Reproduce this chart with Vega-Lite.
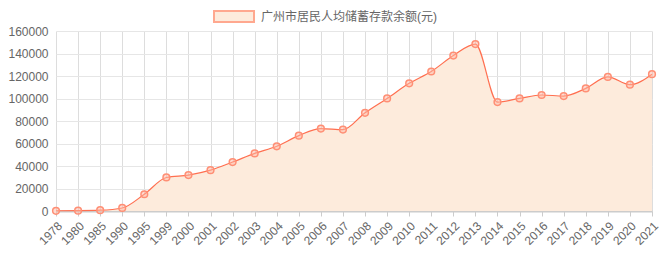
{
  "$schema": "https://vega.github.io/schema/vega-lite/v6.json",
  "width": 596,
  "height": 180,
  "autosize": {"type": "none"},
  "padding": {"left": 56, "top": 31, "right": 8, "bottom": 49},
  "background": "#ffffff",
  "config": {
    "font": "Liberation Sans, Noto Sans CJK SC, sans-serif",
    "view": {"stroke": null}
  },
  "data": {
    "values": [
      {"year": "1978", "value": 200, "series": "广州市居民人均储蓄存款余额(元)"},
      {"year": "1980", "value": 300, "series": "广州市居民人均储蓄存款余额(元)"},
      {"year": "1985", "value": 700, "series": "广州市居民人均储蓄存款余额(元)"},
      {"year": "1990", "value": 2700, "series": "广州市居民人均储蓄存款余额(元)"},
      {"year": "1995", "value": 14900, "series": "广州市居民人均储蓄存款余额(元)"},
      {"year": "1999", "value": 29800, "series": "广州市居民人均储蓄存款余额(元)"},
      {"year": "2000", "value": 31900, "series": "广州市居民人均储蓄存款余额(元)"},
      {"year": "2001", "value": 36300, "series": "广州市居民人均储蓄存款余额(元)"},
      {"year": "2002", "value": 43500, "series": "广州市居民人均储蓄存款余额(元)"},
      {"year": "2003", "value": 51200, "series": "广州市居民人均储蓄存款余额(元)"},
      {"year": "2004", "value": 57500, "series": "广州市居民人均储蓄存款余额(元)"},
      {"year": "2005", "value": 67000, "series": "广州市居民人均储蓄存款余额(元)"},
      {"year": "2006", "value": 73300, "series": "广州市居民人均储蓄存款余额(元)"},
      {"year": "2007", "value": 72400, "series": "广州市居民人均储蓄存款余额(元)"},
      {"year": "2008", "value": 87300, "series": "广州市居民人均储蓄存款余额(元)"},
      {"year": "2009", "value": 100100, "series": "广州市居民人均储蓄存款余额(元)"},
      {"year": "2010", "value": 113500, "series": "广州市居民人均储蓄存款余额(元)"},
      {"year": "2011", "value": 124000, "series": "广州市居民人均储蓄存款余额(元)"},
      {"year": "2012", "value": 138200, "series": "广州市居民人均储蓄存款余额(元)"},
      {"year": "2013", "value": 148400, "series": "广州市居民人均储蓄存款余额(元)"},
      {"year": "2014", "value": 96800, "series": "广州市居民人均储蓄存款余额(元)"},
      {"year": "2015", "value": 100100, "series": "广州市居民人均储蓄存款余额(元)"},
      {"year": "2016", "value": 103100, "series": "广州市居民人均储蓄存款余额(元)"},
      {"year": "2017", "value": 102200, "series": "广州市居民人均储蓄存款余额(元)"},
      {"year": "2018", "value": 109000, "series": "广州市居民人均储蓄存款余额(元)"},
      {"year": "2019", "value": 119200, "series": "广州市居民人均储蓄存款余额(元)"},
      {"year": "2020", "value": 112300, "series": "广州市居民人均储蓄存款余额(元)"},
      {"year": "2021", "value": 121600, "series": "广州市居民人均储蓄存款余额(元)"}
    ]
  },
  "encoding": {
    "x": {
      "field": "year",
      "type": "ordinal",
      "sort": null,
      "scale": {"type": "point", "padding": 0},
      "axis": {
        "title": null,
        "labelAngle": -45,
        "labelAlign": "right",
        "labelBaseline": "top",
        "labelColor": "#666666",
        "labelFontSize": 12,
        "labelPadding": 4,
        "ticks": true,
        "tickSize": 5,
        "tickColor": "#cccccc",
        "domainColor": "#cccccc",
        "domainWidth": 2,
        "grid": true,
        "gridColor": "#dddddd",
        "labelOverlap": false,
        "labelBound": false
      }
    },
    "y": {
      "field": "value",
      "type": "quantitative",
      "scale": {"domain": [0, 160000], "nice": false},
      "axis": {
        "title": null,
        "values": [0, 20000, 40000, 60000, 80000, 100000, 120000, 140000, 160000],
        "format": "d",
        "labelColor": "#666666",
        "labelFontSize": 12,
        "labelPadding": 8,
        "ticks": false,
        "domain": false,
        "grid": true,
        "gridColor": "#e6e6e6"
      }
    }
  },
  "layer": [
    {
      "mark": {"type": "area", "interpolate": "monotone"},
      "encoding": {
        "color": {
          "field": "series",
          "type": "nominal",
          "scale": {"range": ["#fdebdc"]},
          "legend": {
            "title": null,
            "orient": "none",
            "legendX": 157,
            "legendY": -35.5,
            "padding": 0,
            "symbolType": "M-1,-0.275L1,-0.275L1,0.275L-1,0.275Z",
            "symbolSize": 1600,
            "symbolStrokeColor": "#ffa88f",
            "symbolStrokeWidth": 2,
            "symbolFillColor": "#fdebdc",
            "symbolOpacity": 1,
            "labelColor": "#666666",
            "labelFontSize": 12,
            "labelOffset": 6,
            "labelLimit": 400
          }
        }
      }
    },
    {
      "mark": {"type": "line", "interpolate": "monotone", "color": "#ff6f50", "strokeWidth": 1.2}
    },
    {
      "mark": {"type": "point", "shape": "circle", "size": 45, "filled": false, "stroke": "#ff8f75", "strokeWidth": 1.5, "fill": "#ffb8a3", "fillOpacity": 0.5, "opacity": 1}
    }
  ]
}
